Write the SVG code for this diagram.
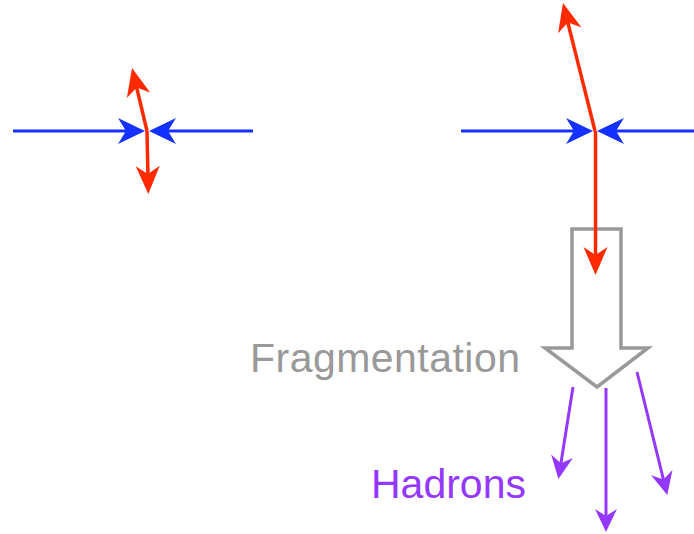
<svg xmlns="http://www.w3.org/2000/svg" width="694" height="534" viewBox="0 0 694 534">
<style>
.blue{stroke:#1431FF;stroke-width:3;fill:none}
.red{stroke:#FF2A00;stroke-width:3.5;fill:none}
.purple{stroke:#9538FF;stroke-width:3;fill:none}
.lbl{font-family:"Liberation Sans",Arial,sans-serif;font-size:41px}
</style>
<defs>
<marker id="mb" viewBox="-28 -14 30 28" refX="-15" refY="0" markerWidth="30" markerHeight="28" markerUnits="userSpaceOnUse" orient="auto"><path d="M0,0 L-27,-13 L-19,0 L-27,13 Z" fill="#1431FF"/></marker>
<marker id="mr" viewBox="-28 -14 30 28" refX="-15" refY="0" markerWidth="30" markerHeight="28" markerUnits="userSpaceOnUse" orient="auto"><path d="M0,0 L-28,-12 L-20,0 L-28,12 Z" fill="#FF2A00"/></marker>
<marker id="mp" viewBox="-24 -12 26 24" refX="-12" refY="0" markerWidth="26" markerHeight="24" markerUnits="userSpaceOnUse" orient="auto"><path d="M0,0 L-23,-11 L-16,0 L-23,11 Z" fill="#9538FF"/></marker>
</defs>
<g id="fragmentation-arrow">
<polygon points="572,229 621,229 621,348 648,348 597,387 545,348 572,348" fill="#fff" stroke="#999" stroke-width="3.5" stroke-linejoin="miter"/>
</g>
<g id="connectors">
<path class="blue" d="M13,131 H130" marker-end="url(#mb)"/>
<path class="blue" d="M253,131 H164" marker-end="url(#mb)"/>
<path class="red" d="M147,131 L135.5,82.6" marker-end="url(#mr)"/>
<path class="red" d="M147,131 L148,179" marker-end="url(#mr)"/>
<path class="blue" d="M461,131 H578" marker-end="url(#mb)"/>
<path class="blue" d="M694,131 H612" marker-end="url(#mb)"/>
<path class="red" d="M595,131 L566.6,17.6" marker-end="url(#mr)"/>
<path class="red" d="M595.5,131 L595.5,260" marker-end="url(#mr)"/>
<path class="purple" d="M573,387 L560.3,467.2" marker-end="url(#mp)"/>
<path class="purple" d="M606,388 L606,520" marker-end="url(#mp)"/>
<path class="purple" d="M637,372 L664.4,483.4" marker-end="url(#mp)"/>
</g>
<g id="label-fragmentation"><text class="lbl" x="250" y="372" fill="#999" textLength="270">Fragmentation</text></g>
<g id="label-hadrons"><text class="lbl" x="371" y="498" fill="#9538FF">Hadrons</text></g>
</svg>
